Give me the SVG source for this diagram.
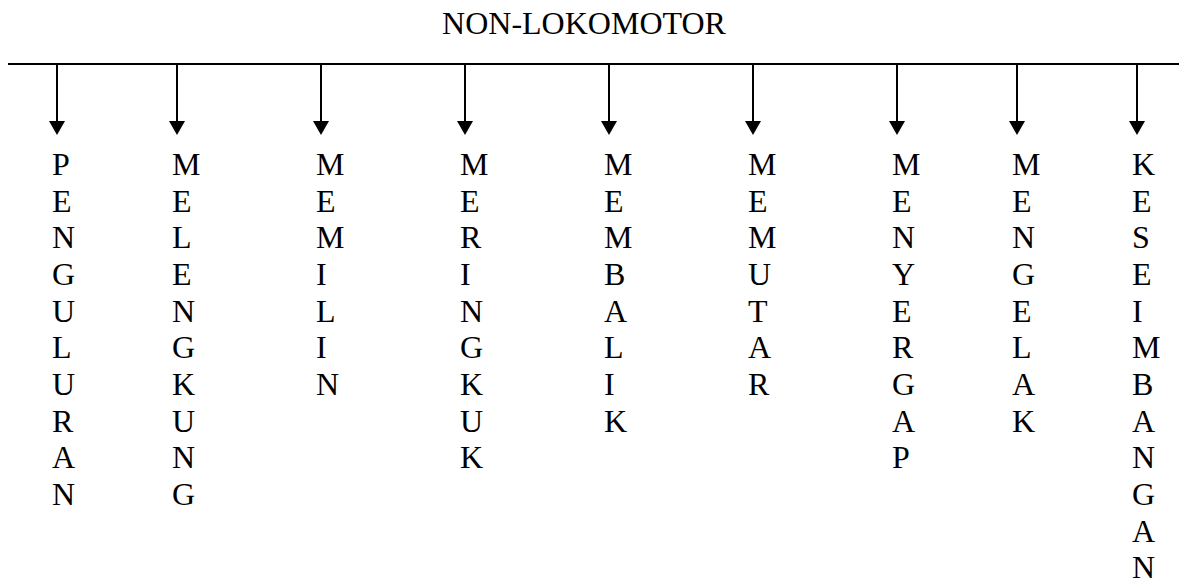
<svg xmlns="http://www.w3.org/2000/svg" width="1179" height="581" viewBox="0 0 1179 581">
<defs>
<style>
.t{font-family:"Liberation Serif","Times New Roman",serif;font-size:32px;fill:#000}
.c{stroke:#000;stroke-width:2;fill:none}
.a{stroke:#000;stroke-width:2;fill:none;marker-end:url(#ah)}
</style>
<marker id="ah" markerUnits="userSpaceOnUse" markerWidth="16" markerHeight="14" refX="8" refY="0" orient="0" viewBox="0 0 16 14" overflow="visible">
<path d="M0,0 L16,0 L8,14 Z" fill="#000"/>
</marker>
</defs>
<rect width="1179" height="581" fill="#fff"/>
<g id="title"><text class="t" x="584" y="34" text-anchor="middle">NON-LOKOMOTOR</text></g>
<g id="connectors">
<line class="c" x1="8" y1="64" x2="1179" y2="64"/>
<line class="a" x1="57" y1="63" x2="57" y2="121"/>
<line class="a" x1="177" y1="63" x2="177" y2="121"/>
<line class="a" x1="321" y1="63" x2="321" y2="121"/>
<line class="a" x1="465" y1="63" x2="465" y2="121"/>
<line class="a" x1="609" y1="63" x2="609" y2="121"/>
<line class="a" x1="753" y1="63" x2="753" y2="121"/>
<line class="a" x1="897" y1="63" x2="897" y2="121"/>
<line class="a" x1="1017" y1="63" x2="1017" y2="121"/>
<line class="a" x1="1137" y1="63" x2="1137" y2="121"/>
</g>
<g id="n1"><text class="t" y="175"><tspan x="52">P</tspan><tspan x="52" dy="36.67">E</tspan><tspan x="52" dy="36.67">N</tspan><tspan x="52" dy="36.67">G</tspan><tspan x="52" dy="36.67">U</tspan><tspan x="52" dy="36.67">L</tspan><tspan x="52" dy="36.67">U</tspan><tspan x="52" dy="36.67">R</tspan><tspan x="52" dy="36.67">A</tspan><tspan x="52" dy="36.67">N</tspan></text></g>
<g id="n2"><text class="t" y="175"><tspan x="172">M</tspan><tspan x="172" dy="36.67">E</tspan><tspan x="172" dy="36.67">L</tspan><tspan x="172" dy="36.67">E</tspan><tspan x="172" dy="36.67">N</tspan><tspan x="172" dy="36.67">G</tspan><tspan x="172" dy="36.67">K</tspan><tspan x="172" dy="36.67">U</tspan><tspan x="172" dy="36.67">N</tspan><tspan x="172" dy="36.67">G</tspan></text></g>
<g id="n3"><text class="t" y="175"><tspan x="316">M</tspan><tspan x="316" dy="36.67">E</tspan><tspan x="316" dy="36.67">M</tspan><tspan x="316" dy="36.67">I</tspan><tspan x="316" dy="36.67">L</tspan><tspan x="316" dy="36.67">I</tspan><tspan x="316" dy="36.67">N</tspan></text></g>
<g id="n4"><text class="t" y="175"><tspan x="460">M</tspan><tspan x="460" dy="36.67">E</tspan><tspan x="460" dy="36.67">R</tspan><tspan x="460" dy="36.67">I</tspan><tspan x="460" dy="36.67">N</tspan><tspan x="460" dy="36.67">G</tspan><tspan x="460" dy="36.67">K</tspan><tspan x="460" dy="36.67">U</tspan><tspan x="460" dy="36.67">K</tspan></text></g>
<g id="n5"><text class="t" y="175"><tspan x="604">M</tspan><tspan x="604" dy="36.67">E</tspan><tspan x="604" dy="36.67">M</tspan><tspan x="604" dy="36.67">B</tspan><tspan x="604" dy="36.67">A</tspan><tspan x="604" dy="36.67">L</tspan><tspan x="604" dy="36.67">I</tspan><tspan x="604" dy="36.67">K</tspan></text></g>
<g id="n6"><text class="t" y="175"><tspan x="748">M</tspan><tspan x="748" dy="36.67">E</tspan><tspan x="748" dy="36.67">M</tspan><tspan x="748" dy="36.67">U</tspan><tspan x="748" dy="36.67">T</tspan><tspan x="748" dy="36.67">A</tspan><tspan x="748" dy="36.67">R</tspan></text></g>
<g id="n7"><text class="t" y="175"><tspan x="892">M</tspan><tspan x="892" dy="36.67">E</tspan><tspan x="892" dy="36.67">N</tspan><tspan x="892" dy="36.67">Y</tspan><tspan x="892" dy="36.67">E</tspan><tspan x="892" dy="36.67">R</tspan><tspan x="892" dy="36.67">G</tspan><tspan x="892" dy="36.67">A</tspan><tspan x="892" dy="36.67">P</tspan></text></g>
<g id="n8"><text class="t" y="175"><tspan x="1012">M</tspan><tspan x="1012" dy="36.67">E</tspan><tspan x="1012" dy="36.67">N</tspan><tspan x="1012" dy="36.67">G</tspan><tspan x="1012" dy="36.67">E</tspan><tspan x="1012" dy="36.67">L</tspan><tspan x="1012" dy="36.67">A</tspan><tspan x="1012" dy="36.67">K</tspan></text></g>
<g id="n9"><text class="t" y="175"><tspan x="1132">K</tspan><tspan x="1132" dy="36.67">E</tspan><tspan x="1132" dy="36.67">S</tspan><tspan x="1132" dy="36.67">E</tspan><tspan x="1132" dy="36.67">I</tspan><tspan x="1132" dy="36.67">M</tspan><tspan x="1132" dy="36.67">B</tspan><tspan x="1132" dy="36.67">A</tspan><tspan x="1132" dy="36.67">N</tspan><tspan x="1132" dy="36.67">G</tspan><tspan x="1132" dy="36.67">A</tspan><tspan x="1132" dy="36.67">N</tspan></text></g>
</svg>
